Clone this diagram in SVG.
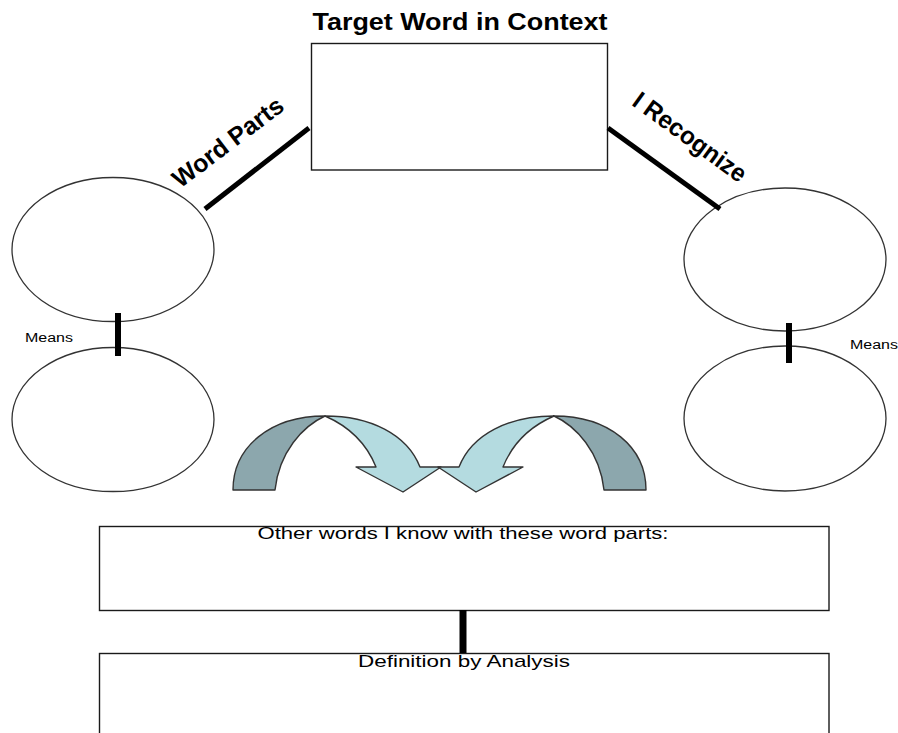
<svg xmlns="http://www.w3.org/2000/svg" width="898" height="733" viewBox="0 0 898 733">
<style>
text{font-family:"Liberation Sans",Arial,sans-serif;fill:#000}
.box{fill:#fff;stroke:#1a1a1a;stroke-width:1.4}
.oval{fill:#fff;stroke:#333;stroke-width:1.3}
.conn{stroke:#000;stroke-linecap:butt}
.dark{fill:#8ca7ad;stroke:#333;stroke-width:1.4;stroke-linejoin:round}
.light{fill:#b4dbe0;stroke:#333;stroke-width:1.4;stroke-linejoin:round}
.bold{font-weight:bold}
</style>
<rect width="898" height="733" fill="#fff"/>
<g id="target">
<text class="bold" x="460" y="30" font-size="23" text-anchor="middle" textLength="295" lengthAdjust="spacingAndGlyphs">Target Word in Context</text>
<rect class="box" x="311.5" y="43.5" width="296" height="126.5"/>
</g>
<g id="left-top-oval"><ellipse class="oval" cx="113" cy="249.5" rx="101" ry="72"/></g>
<g id="left-bottom-oval"><ellipse class="oval" cx="113" cy="419.5" rx="101" ry="72"/></g>
<g id="right-top-oval"><ellipse class="oval" cx="785" cy="259.5" rx="101" ry="71.5"/></g>
<g id="right-bottom-oval"><ellipse class="oval" cx="785" cy="418.5" rx="101" ry="72.5"/></g>
<g id="left-arrow">
<path class="dark" d="M233,490 C233,447 270,416 325,416 C303,426 279,452 275,490 Z"/>
<path class="light" d="M325,416 C370,416 407,434 420,467 L441,467 L403,492 L356,467 L376,467 C366,442 348,426 325,416 Z"/>
</g>
<g id="right-arrow" transform="translate(879,0) scale(-1,1)">
<path class="dark" d="M233,490 C233,447 270,416 325,416 C303,426 279,452 275,490 Z"/>
<path class="light" d="M325,416 C370,416 407,434 420,467 L441,467 L403,492 L356,467 L376,467 C366,442 348,426 325,416 Z"/>
</g>
<g id="other-words">
<rect class="box" x="99.5" y="526.5" width="729.5" height="84"/>
<text x="463" y="539" font-size="17" text-anchor="middle" textLength="411" lengthAdjust="spacingAndGlyphs">Other words I know with these word parts:</text>
</g>
<g id="definition">
<rect class="box" x="99.5" y="653.5" width="729.5" height="95"/>
<text x="464" y="667" font-size="17" text-anchor="middle" textLength="212" lengthAdjust="spacingAndGlyphs">Definition by Analysis</text>
</g>
<g id="connectors">
<line class="conn" x1="205" y1="209" x2="309" y2="128" stroke-width="5"/>
<line class="conn" x1="608" y1="128" x2="720" y2="209" stroke-width="5"/>
<line class="conn" x1="118" y1="313" x2="118" y2="356" stroke-width="6"/>
<line class="conn" x1="789" y1="323" x2="789" y2="363" stroke-width="6"/>
<line class="conn" x1="463" y1="610" x2="463" y2="653" stroke-width="7"/>
<text class="bold" x="233" y="149" font-size="25" text-anchor="middle" transform="rotate(-37 233 149)" textLength="132" lengthAdjust="spacingAndGlyphs">Word Parts</text>
<text class="bold" x="685" y="144" font-size="25" text-anchor="middle" transform="rotate(36 685 144)" textLength="134" lengthAdjust="spacingAndGlyphs">I Recognize</text>
<text x="25" y="342" font-size="12" textLength="48" lengthAdjust="spacingAndGlyphs">Means</text>
<text x="850" y="349" font-size="12" textLength="48" lengthAdjust="spacingAndGlyphs">Means</text>
</g>
</svg>
